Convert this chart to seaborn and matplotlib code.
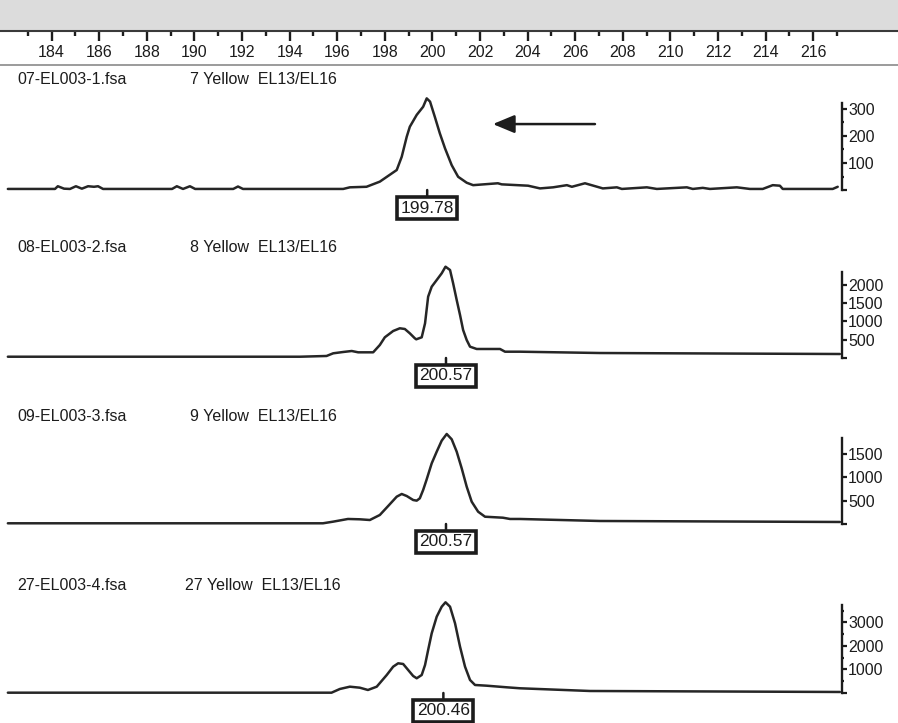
import matplotlib
matplotlib.use("Agg")
import matplotlib.pyplot as plt
from matplotlib.lines import Line2D
from matplotlib.ticker import FixedLocator
import seaborn as sns
import pandas as pd

# ---------------- data ----------------
ruler_major = list(range(184, 217, 2))
ruler_minor = list(range(183, 218, 2))

file_names = ["07-EL003-1.fsa", "08-EL003-2.fsa", "09-EL003-3.fsa", "27-EL003-4.fsa"]
dye_labels = ["7 Yellow  EL13/EL16", "8 Yellow  EL13/EL16",
              "9 Yellow  EL13/EL16", "27 Yellow  EL13/EL16"]
peak_calls = [199.78, 200.57, 200.57, 200.46]

t1_size = [182.16, 184.14, 184.26, 184.52, 184.77, 185.02, 185.27, 185.53, 185.78, 185.95,
           186.16, 189.06, 189.26, 189.52, 189.81, 190.03, 191.63, 191.83, 192.04, 196.25,
           196.53, 197.23, 197.79, 198.50, 198.71, 198.92, 199.05, 199.34, 199.61, 199.76,
           199.90, 200.10, 200.31, 200.53, 200.81, 201.08, 201.44, 201.71, 202.75, 202.91,
           204.02, 204.52, 205.07, 205.65, 205.86, 206.41, 207.16, 207.75, 207.96, 209.01,
           209.43, 210.69, 210.94, 211.36, 211.66, 212.79, 213.34, 213.88, 214.30, 214.60,
           214.72, 216.82, 217.03]
t1_rfu = [4, 4, 14, 5, 4, 14, 5, 14, 12, 14,
          4, 4, 14, 4, 14, 4, 4, 13, 4, 4,
          10, 12, 31, 74, 123, 197, 234, 278, 308, 339,
          327, 271, 210, 154, 92, 49, 27, 18, 25, 21,
          16, 6, 10, 18, 12, 25, 6, 10, 4, 10,
          4, 10, 4, 8, 4, 10, 4, 4, 18, 16,
          4, 4, 12]

t2_size = [182.16, 194.44, 195.55, 195.83, 196.25, 196.61, 196.88, 197.51, 197.79, 198.00,
           198.35, 198.63, 198.84, 199.05, 199.26, 199.32, 199.55, 199.69, 199.82, 199.97,
           200.18, 200.39, 200.55, 200.74, 200.87, 201.02, 201.16, 201.29, 201.44, 201.58,
           201.86, 202.84, 203.05, 203.68, 207.04, 217.12]
t2_rfu = [35, 35, 55, 128, 164, 191, 155, 155, 355, 565,
          737, 811, 792, 674, 538, 510, 565, 947, 1674, 1947,
          2129, 2312, 2493, 2402, 2039, 1583, 1174, 764, 491, 309,
          246, 246, 172, 172, 136, 109]

t3_size = [182.16, 195.40, 195.82, 196.45, 196.95, 197.37, 197.79, 198.14, 198.50, 198.71,
           198.92, 199.19, 199.34, 199.47, 199.61, 199.75, 199.97, 200.18, 200.39, 200.60,
           200.81, 201.02, 201.23, 201.44, 201.65, 201.92, 202.21, 202.96, 203.26, 203.68,
           207.04, 217.12]
t3_rfu = [15, 15, 49, 107, 100, 85, 192, 383, 582, 639,
          596, 511, 497, 547, 724, 937, 1292, 1540, 1775, 1917,
          1804, 1540, 1186, 795, 475, 262, 155, 134, 107, 107,
          64, 43]

t4_size = [182.16, 195.76, 196.11, 196.53, 196.95, 197.29, 197.66, 198.08, 198.35, 198.56,
           198.77, 198.98, 199.19, 199.34, 199.55, 199.69, 199.82, 199.97, 200.18, 200.39,
           200.55, 200.74, 200.95, 201.16, 201.37, 201.58, 201.79, 202.28, 203.12, 203.68,
           206.62, 217.12]
t4_rfu = [13, 13, 170, 268, 225, 128, 268, 765, 1118, 1262,
          1233, 978, 723, 625, 765, 1190, 1828, 2537, 3243, 3668,
          3855, 3668, 2962, 1968, 1118, 553, 340, 310, 242, 200,
          85, 43]

yticks_list = [[100, 200, 300], [500, 1000, 1500, 2000], [500, 1000, 1500], [1000, 2000, 3000]]
yminor_list = [[50, 150, 250], [], [], [500, 1500, 2500, 3500]]
axis_tops = [322, 2348, 1832, 3740]

# ---------------- style ----------------
sns.set_theme(style="white")
plt.rcParams["font.family"] = ["Liberation Sans", "DejaVu Sans"]

W, H = 898, 723
fig = plt.figure(figsize=(W / 100, H / 100), dpi=100)
fig.patch.set_facecolor("white")
ink = "#1c1c1c"


def rect(l, t, r, b):
    return [l / W, 1 - b / H, (r - l) / W, (b - t) / H]


# ---- ruler ----
axr = fig.add_axes(rect(0, 0, 898, 31))
axr.set_facecolor("#dcdcdc")
axr.set_xlim(181.83, 219.56)
axr.set_ylim(0, 1)
for s in ["top", "left", "right"]:
    axr.spines[s].set_visible(False)
axr.spines["bottom"].set_color("#3a3a3a")
axr.spines["bottom"].set_linewidth(1.5)
axr.set_yticks([])
axr.xaxis.set_major_locator(FixedLocator(ruler_major))
axr.xaxis.set_minor_locator(FixedLocator(ruler_minor))
axr.set_xticklabels([str(v) for v in ruler_major])
axr.tick_params(axis="x", which="major", direction="out", length=7.2, width=1.7,
                color=ink, labelsize=11.5, labelcolor=ink, pad=3, bottom=True)
axr.tick_params(axis="x", which="minor", direction="out", length=3.3, width=1.7,
                color=ink, bottom=True)
fig.add_artist(Line2D([0, 1], [1 - 64.5 / H, 1 - 64.5 / H], transform=fig.transFigure,
                      color="#8a8a8a", lw=1.2))

# ---- panels ----
panel_px = [(70, 193), (238, 361), (406, 527), (575, 696)]
ylims = [(-11, 444), (-82, 3276), (-64, 2513), (-128, 5015)]
sizes = [t1_size, t2_size, t3_size, t4_size]
rfus = [t1_rfu, t2_rfu, t3_rfu, t4_rfu]
label_py = [80, 248, 417, 585]
dye_px = [190, 190, 190, 185]

for i in range(4):
    top, bot = panel_px[i]
    ax = fig.add_axes(rect(0, top, 842, bot))
    ax.set_facecolor("none")
    df = pd.DataFrame({"size": sizes[i], "rfu": rfus[i]})
    sns.lineplot(data=df, x="size", y="rfu", ax=ax, color="#262626", lw=1.8,
                 estimator=None, sort=False)
    ax.set_xlim(181.83, 217.21)
    ax.set_ylim(*ylims[i])
    ax.set_xlabel("")
    ax.set_ylabel("")
    ax.set_xticks([])
    for s in ["top", "left", "bottom"]:
        ax.spines[s].set_visible(False)
    ax.spines["right"].set_visible(True)
    ax.spines["right"].set_color(ink)
    ax.spines["right"].set_linewidth(1.7)
    ax.spines["right"].set_bounds(0, axis_tops[i])
    ax.yaxis.tick_right()
    ax.set_yticks([0] + yticks_list[i])
    ax.set_yticklabels([""] + [str(v) for v in yticks_list[i]])
    ax.yaxis.set_minor_locator(FixedLocator(yminor_list[i]))
    ax.tick_params(axis="y", which="major", direction="out", length=3.8, width=1.6,
                   color=ink, labelsize=11.5, labelcolor=ink, pad=0.5, right=True, left=False)
    ax.tick_params(axis="y", which="minor", direction="out", length=1.5, width=1.6,
                   color=ink, right=True, left=False)

    fig.text(17 / W, 1 - label_py[i] / H, file_names[i], ha="left", va="center",
             fontsize=11.5, color=ink)
    fig.text(dye_px[i] / W, 1 - label_py[i] / H, dye_labels[i], ha="left", va="center",
             fontsize=11.5, color=ink)

    ax.annotate(f"{peak_calls[i]:.2f}", xy=(peak_calls[i], 0), xycoords="data",
                xytext=(0, -18), textcoords="offset pixels", ha="center", va="center",
                fontsize=12.5, color=ink, annotation_clip=False,
                bbox=dict(boxstyle="square,pad=0.2", fc="white", ec=ink, lw=2.6),
                arrowprops=dict(arrowstyle="-", lw=1.8, color=ink, shrinkA=0, shrinkB=0))

    if i == 0:
        ax.annotate("", xy=(202.54, 244), xytext=(206.83, 244), xycoords="data",
                    arrowprops=dict(arrowstyle="-|>,head_length=0.6,head_width=0.25",
                                    mutation_scale=22, lw=1.8, color=ink,
                                    shrinkA=0, shrinkB=0))

fig.savefig("out.png", dpi=100, facecolor="white")
